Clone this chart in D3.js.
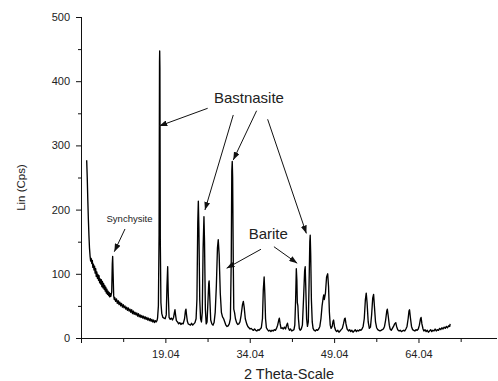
<!DOCTYPE html>
<html>
<head>
<meta charset="utf-8">
<script src="https://cdn.jsdelivr.net/npm/d3@7/dist/d3.min.js"></script>
<style>
  html, body { margin: 0; padding: 0; background: #fff; }
  svg { display: block; }
  text { font-family: Arial, "Liberation Sans", sans-serif; fill: #222; }
</style>
</head>
<body>
<svg id="chart" width="498" height="381"></svg>
<script>
const twoTheta = [
 5.05,5.15,5.25,5.35,5.45,5.55,5.65,5.75,5.85,5.95,6.05,6.15,6.25,6.35,6.45,6.55,6.65,6.75,6.85,6.95,7.05,7.15,7.25,7.35,7.45,7.55,7.65,7.75,7.85,7.95,8.05,8.15,8.25,8.35,8.45,8.55,8.65,8.75,8.85,8.95,9.05,9.15,9.25,9.35,9.5,9.6,9.67,9.75,9.85,9.95,
 10.05,10.2,10.35,10.5,10.65,10.8,10.95,11.1,11.25,11.4,11.55,11.7,11.85,12.0,12.15,12.3,12.45,12.6,12.75,12.9,13.05,13.2,13.35,13.5,13.65,13.8,13.95,14.1,14.25,14.4,14.55,14.7,14.85,15.0,15.15,15.3,15.45,15.6,15.75,15.9,16.05,16.2,16.35,16.5,16.65,16.8,16.95,17.1,17.25,17.4,17.55,17.65,17.8,17.92,18.0,18.03,18.07,18.14,18.25,18.4,18.6,18.8,19.0,19.2,19.32,19.45,19.55,19.7,19.9,
 20.1,20.3,20.5,20.65,20.75,20.85,21.0,21.2,21.4,21.6,21.8,22.0,22.2,22.45,22.6,22.7,22.8,22.95,23.1,23.3,23.5,23.7,23.9,24.1,24.3,24.5,24.65,24.8,24.9,25.0,25.15,25.3,25.45,25.6,25.75,25.9,26.0,26.15,26.3,26.45,26.6,26.75,26.82,26.95,27.1,27.3,27.5,27.7,27.9,28.1,28.3,28.44,28.6,28.8,29.0,29.2,29.4,29.6,29.8,
 30.0,30.2,30.4,30.6,30.75,30.85,30.93,31.0,31.1,31.2,31.35,31.5,31.7,31.9,32.1,32.3,32.5,32.75,32.9,33.05,33.25,33.5,33.7,33.9,34.1,34.3,34.5,34.7,34.9,35.1,35.3,35.5,35.7,35.9,36.1,36.3,36.45,36.6,36.72,36.85,37.0,37.2,37.4,37.6,37.8,38.0,38.2,38.4,38.6,38.8,39.0,39.2,39.3,39.45,39.6,39.8,
 40.0,40.2,40.4,40.6,40.75,40.9,41.1,41.3,41.5,41.7,41.9,42.05,42.2,42.32,42.42,42.5,42.6,42.7,42.85,43.0,43.2,43.4,43.6,43.8,43.9,44.0,44.15,44.3,44.45,44.6,44.72,44.79,44.88,45.0,45.15,45.3,45.5,45.7,45.9,46.1,46.3,46.5,46.7,46.9,47.1,47.2,47.3,47.5,47.7,47.9,48.05,48.2,48.35,48.5,48.7,48.85,48.95,49.1,49.3,49.5,49.7,49.9,
 50.1,50.3,50.5,50.7,50.9,51.0,51.15,51.35,51.6,51.8,52.0,52.2,52.4,52.6,52.8,53.0,53.2,53.4,53.6,53.8,54.0,54.2,54.4,54.6,54.75,54.9,55.1,55.3,55.5,55.7,55.9,56.06,56.2,56.4,56.6,56.8,57.0,57.2,57.4,57.6,57.8,58.0,58.2,58.4,58.5,58.65,58.85,59.0,59.2,59.4,59.6,59.8,
 60.0,60.15,60.35,60.6,60.8,61.0,61.2,61.4,61.6,61.8,62.0,62.2,62.35,62.45,62.6,62.8,63.0,63.2,63.4,63.6,63.8,64.0,64.2,64.4,64.5,64.65,64.85,65.0,65.2,65.4,65.6,65.8,66.0,66.2,66.4,66.6,66.8,67.0,67.2,67.4,67.6,67.8,68.0,68.2,68.4,68.6,68.8,69.0,69.2,69.4,69.6,69.67
];
const intensity = [
 277,250,215,185,160,140,128,120,124,116,121,110,115,106,112,101,108,96,103,93,99,90,97,86,92,84,91,80,88,78,85,76,82,73,79,70,76,68,73,66,71,64,69,65,72,115,127,100,66,60,
 63,57,61,54,58,52,56,50,54,48,52,47,50,45,48,43,47,42,45,40,44,38,42,37,40,36,39,34,38,33,36,32,35,31,34,30,33,29,32,28,31,27,30,26,29,25,28,24,27,25,27,31,50,160,430,447,420,150,55,38,32,31,30,36,80,111,70,32,29,
 31,28,32,40,44,36,27,25,22,24,21,23,22,30,42,45,36,26,22,21,20,23,20,22,24,30,60,180,213,170,60,30,25,40,140,189,150,45,22,25,55,85,89,60,28,22,20,24,40,80,140,153,130,70,40,33,30,25,20,
 18,19,22,30,120,260,275,250,130,45,39,30,24,21,22,25,35,52,57,48,30,22,18,16,14,15,13,12,14,12,11,13,12,14,16,30,75,95,70,30,16,13,11,12,10,12,11,13,12,15,20,28,31,22,15,16,
 14,17,14,20,23,16,12,14,11,12,13,20,60,108,90,55,50,30,15,12,14,20,60,105,111,80,30,18,25,90,150,160,130,60,25,15,12,11,13,12,14,18,30,50,63,67,60,70,95,100,80,40,20,15,18,26,28,18,12,10,12,9,
 11,13,15,22,30,31,22,14,11,13,10,12,9,11,13,10,12,11,13,12,14,18,30,60,70,55,25,15,17,35,62,68,50,25,16,13,12,11,12,13,14,18,28,42,45,35,20,14,12,15,18,22,
 24,18,13,11,12,10,11,12,11,14,18,30,42,44,32,18,13,12,11,13,12,14,20,30,32,22,14,11,13,10,12,9,11,13,10,12,11,14,11,13,12,15,13,16,14,17,15,18,16,19,18,22
];
const xMajorTicks = [4.04, 19.04, 34.04, 49.04, 64.04];
const xMinorTicks = [11.54, 26.54, 41.54, 56.54, 71.54];
const xTickLabels = ["", "19.04", "34.04", "49.04", "64.04"];
const yMajorTicks = [0, 100, 200, 300, 400, 500];
const yMinorTicks = [50, 150, 250, 350, 450];
const yTickLabels = ["0", "100", "200", "300", "400", "500"];

// annotation labels and arrows, in data units (2-theta, Cps)
const labelNames = ["Synchysite", "Bastnasite", "Barite"];
const labelAt = [[12.66, 180.7], [33.9, 366], [37.33, 153.7]];
const labelSize = [9.5, 15, 15];
const arrowFrom = [[11.86, 169.8], [26.56, 357.8], [31.11, 347.4], [35.26, 354.0], [37.22, 340.7], [36.03, 138.2], [38.34, 142.2]];
const arrowTo   = [[9.96, 134.4], [17.95, 330.2], [26.08, 199.4], [31.11, 277.3], [44.11, 162.8], [29.93, 108.6], [42.48, 116.4]];

const svg = d3.select("#chart");
const x = d3.scaleLinear().domain([4.04, 78.0]).range([81, 497]);
const y = d3.scaleLinear().domain([0, 500]).range([338, 17]);

const defs = svg.append("defs");
defs.append("marker")
  .attr("id", "ah").attr("markerUnits", "userSpaceOnUse")
  .attr("viewBox", "0 0 8 6").attr("refX", 8).attr("refY", 3)
  .attr("markerWidth", 8).attr("markerHeight", 6).attr("orient", "auto")
  .append("path").attr("d", "M0,0 L8,3 L0,6 Z").attr("fill", "#111");

// x axis
const gx = svg.append("g").attr("transform", `translate(0,${y(0)})`);
gx.call(d3.axisBottom(x).tickValues(xMajorTicks).tickSize(5).tickFormat((d, i) => xTickLabels[i]));
gx.call(g => g.select(".domain").attr("d", `M${x(4.04)},0.5H${x(78)}`));
gx.selectAll(".tick text").attr("font-size", 11).attr("dy", "1.1em").attr("font-family", "Arial, 'Liberation Sans', sans-serif").attr("fill", "#222");
const gxm = svg.append("g").attr("transform", `translate(0,${y(0)})`);
gxm.call(d3.axisBottom(x).tickValues(xMinorTicks).tickSize(4).tickFormat(""));
gxm.select(".domain").remove();

// y axis
const gy = svg.append("g").attr("transform", `translate(${x(4.04)},0)`);
gy.call(d3.axisLeft(y).tickValues(yMajorTicks).tickSize(5).tickFormat((d, i) => yTickLabels[i]));
gy.call(g => g.select(".domain").attr("d", `M0.5,${y(500)}V${y(0)}`));
gy.selectAll(".tick text").attr("font-size", 11).attr("x", -11).attr("font-family", "Arial, 'Liberation Sans', sans-serif").attr("fill", "#222");
const gym = svg.append("g").attr("transform", `translate(${x(4.04)},0)`);
gym.call(d3.axisLeft(y).tickValues(yMinorTicks).tickSize(3).tickFormat(""));
gym.select(".domain").remove();
svg.selectAll(".domain, .tick line").attr("stroke", "#111");

// axis titles
svg.append("text").attr("x", (x(4.04) + x(78)) / 2).attr("y", 379)
  .attr("text-anchor", "middle").attr("font-size", 14.5).text("2 Theta-Scale");
svg.append("text").attr("transform", `translate(25,${(y(0) + y(500)) / 2 + 10}) rotate(-90)`)
  .attr("text-anchor", "middle").attr("font-size", 11.5).text("Lin (Cps)");

// pattern
const pts = twoTheta.map((t, i) => [t, intensity[i]]);
svg.append("path").datum(pts)
  .attr("fill", "none").attr("stroke", "#000").attr("stroke-width", 1.35).attr("stroke-linejoin", "round")
  .attr("d", d3.line().x(d => x(d[0])).y(d => y(d[1])));

// annotations
svg.selectAll(".lbl").data(labelNames).join("text").attr("class", "lbl")
  .attr("x", (d, i) => x(labelAt[i][0])).attr("y", (d, i) => y(labelAt[i][1]))
  .attr("text-anchor", "middle").attr("font-size", (d, i) => labelSize[i]).text(d => d);
svg.selectAll(".arr").data(arrowFrom).join("line").attr("class", "arr")
  .attr("x1", d => x(d[0])).attr("y1", d => y(d[1]))
  .attr("x2", (d, i) => x(arrowTo[i][0])).attr("y2", (d, i) => y(arrowTo[i][1]))
  .attr("stroke", "#111").attr("stroke-width", 1).attr("marker-end", "url(#ah)");
</script>
</body>
</html>
